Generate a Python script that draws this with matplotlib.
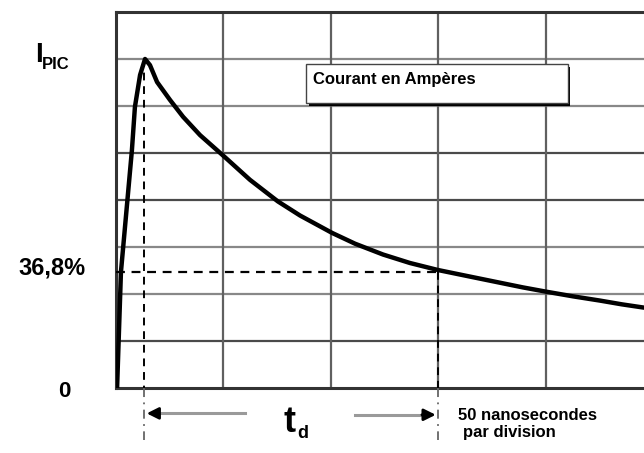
import matplotlib
matplotlib.use("Agg")
import matplotlib.pyplot as plt
from matplotlib.patches import Rectangle

# time in ns (50 ns per division), current in grid divisions (peak = 7 div)
t_ns = [0.5, 2.3, 7.4, 8.8, 11.2, 13.5, 15.8, 19.1, 25.1, 31.2, 39.1, 50.7,
        62.3, 75.3, 85.6, 100.5, 111.2, 124.2, 136.7, 149.8, 164.7, 178.6,
        189.3, 200.0, 212.6, 225.1, 235.3, 245.6]
current = [0.0, 2.47, 5.06, 5.98, 6.66, 7.0, 6.87, 6.51, 6.13, 5.77, 5.38, 4.91,
           4.43, 3.97, 3.67, 3.30, 3.07, 2.84, 2.66, 2.51, 2.37, 2.24,
           2.14, 2.05, 1.95, 1.86, 1.78, 1.71]

t_peak = 13.0
t_d = 150.0
i_peak = 7.0
i_368 = 2.47
ns_per_div = 50
n_div_y = 8

plt.rcParams["font.family"] = ["Liberation Sans", "DejaVu Sans"]
plt.rcParams["font.weight"] = "bold"

W, H = 644, 453
fig = plt.figure(figsize=(W / 100, H / 100), dpi=100)
ax = fig.add_axes([116 / W, (H - 388) / H, (W - 116) / W, 376 / H])
ax.set_xlim(0, 245.6)
ax.set_ylim(0, n_div_y)
ax.set_xticks([])
ax.set_yticks([])
for s in ["right", "bottom", "top", "left"]:
    ax.spines[s].set_visible(False)


def fx(px):
    return px / W


def fy(py):
    return (H - py) / H


# grid
dark_rows = {1, 4, 5}
for k in range(1, n_div_y):
    ax.axhline(k, color="#4a4a4a" if k in dark_rows else "#888888", lw=1.6, zorder=1)
for k in range(1, 5):
    ax.axvline(k * ns_per_div, color="#606060", lw=1.6, zorder=1)
ax.axhline(n_div_y, color="#333333", lw=2.2, zorder=2, clip_on=False)
ax.axhline(0, color="#333333", lw=2.2, zorder=2, clip_on=False)
ax.axvline(0, color="#333333", lw=2.2, zorder=2, clip_on=False)

# curve
ax.plot(t_ns, current, color="black", lw=3.2, zorder=5, solid_capstyle="round",
        solid_joinstyle="round")

# dashed guides
dash = (0, (4, 3))
ax.plot([t_peak, t_peak], [i_peak, 0], color="black", lw=1.4, ls=dash, zorder=4)
ax.plot([t_d, t_d], [i_368, 0], color="black", lw=1.4, ls=dash, zorder=4)
ax.plot([t_peak, t_peak], [0, -1.1], color="#666666", lw=1.3, ls=(0, (5, 3, 1, 3)),
        clip_on=False, zorder=4)
ax.plot([t_d, t_d], [0, -1.1], color="#666666", lw=1.3, ls=(0, (5, 3, 1, 3)),
        clip_on=False, zorder=4)
ax.plot([0, t_d], [i_368, i_368], color="black", lw=1.6, ls=dash, zorder=4)

# t_d arrows
y_arr = -0.54
ax.plot([60, 19], [y_arr, y_arr], color="#9a9a9a", lw=2.2, clip_on=False)
ax.annotate("", xy=(t_peak, y_arr), xytext=(21, y_arr), annotation_clip=False,
            arrowprops=dict(arrowstyle="-|>,head_length=0.7,head_width=0.35",
                            color="black", lw=2))
ax.plot([111, 143], [y_arr - 0.03, y_arr - 0.03], color="#9a9a9a", lw=2.2,
        clip_on=False)
ax.annotate("", xy=(t_d, y_arr - 0.03), xytext=(141, y_arr - 0.03),
            annotation_clip=False,
            arrowprops=dict(arrowstyle="-|>,head_length=0.7,head_width=0.35",
                            color="black", lw=2))

# legend-like box with shadow
bx0, bx1 = 88.4, 210.2
by0, by1 = 6.06, 6.89
ax.add_patch(Rectangle((bx0 + 1.2, by0 - 0.07), bx1 - bx0, by1 - by0,
                       facecolor="black", edgecolor="none", zorder=6))
ax.add_patch(Rectangle((bx0, by0), bx1 - bx0, by1 - by0, facecolor="white",
                       edgecolor="#444444", lw=1.0, zorder=7))
ax.text(91.8, 6.57, "Courant en Ampères", fontsize=12, fontweight="bold",
        va="center", ha="left", zorder=8)

# labels
fig.text(fx(35), fy(62), "I", fontsize=20, fontweight="bold", va="baseline")
fig.text(fx(42), fy(69), "PIC", fontsize=12, fontweight="bold", va="baseline")
fig.text(fx(18), fy(275), "36,8%", fontsize=17, fontweight="bold", va="baseline")
fig.text(fx(64), fy(397), "0", fontsize=16, fontweight="bold", va="baseline",
         ha="center")
fig.text(fx(283), fy(432), "t", fontsize=26, fontweight="bold", va="baseline")
fig.text(fx(297), fy(438), "d", fontsize=13, fontweight="bold", va="baseline")
fig.text(fx(458), fy(420), "50 nanosecondes", fontsize=12, fontweight="bold",
         va="baseline")
fig.text(fx(463), fy(437), "par division", fontsize=12, fontweight="bold",
         va="baseline")

fig.savefig("out.png", dpi=100)
